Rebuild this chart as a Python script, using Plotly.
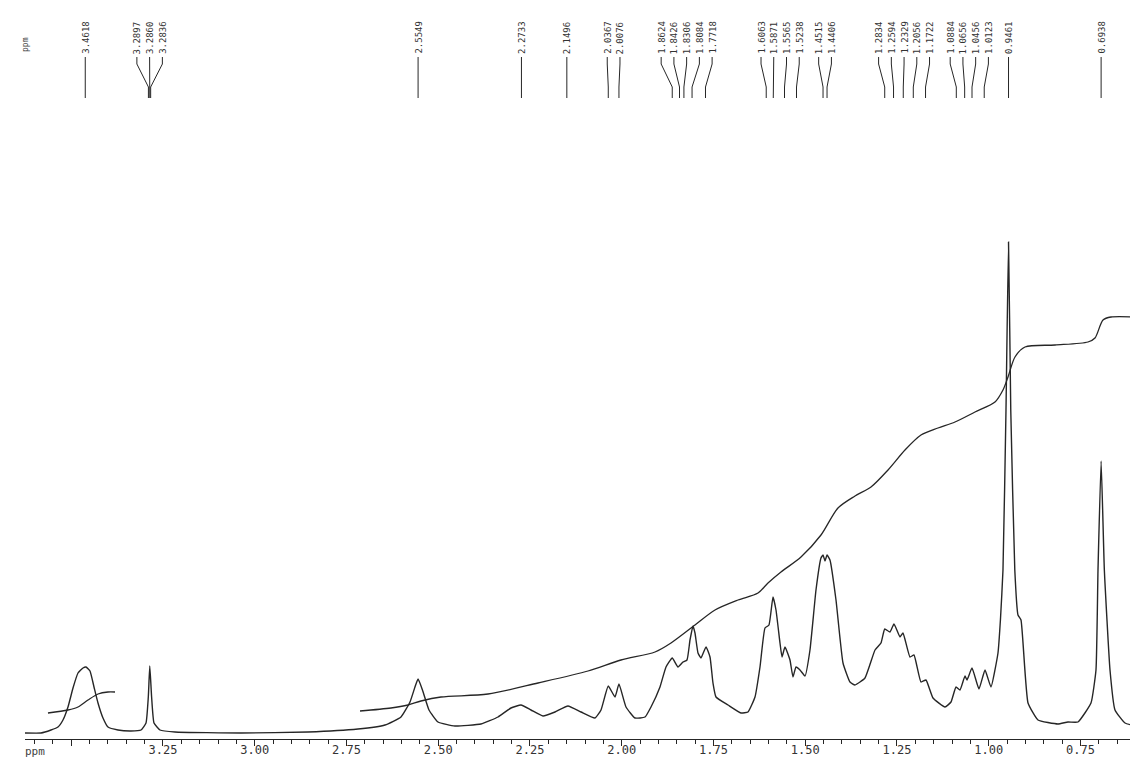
import plotly.graph_objects as go

# ---------------- data ----------------
spec_ppm = [3.6260, 3.5824, 3.5552, 3.5361, 3.5225, 3.5089, 3.4952, 3.4816, 3.4680, 3.4598,
            3.4489, 3.4380, 3.4271, 3.4135, 3.3999, 3.3726, 3.3372, 3.3099, 3.2963, 3.2900,
            3.2860, 3.2810, 3.2745, 3.2582, 3.2173, 3.0375, 2.8549, 2.7187, 2.6451, 2.6015,
            2.5770, 2.5634, 2.5549, 2.5430, 2.5252, 2.5007, 2.4544, 2.3835, 2.3372, 2.3018,
            2.2745, 2.2473, 2.2146, 2.1819, 2.1465, 2.1110, 2.0729, 2.0565, 2.0367, 2.0184,
            2.0076, 1.9884, 1.9639, 1.9366, 1.9203, 1.8958, 1.8794, 1.8624, 1.8467, 1.8331,
            1.8222, 1.8140, 1.8058, 1.8004, 1.7922, 1.7841, 1.7704, 1.7595, 1.7514, 1.7432,
            1.7105, 1.6751, 1.6560, 1.6369, 1.6233, 1.6097, 1.5988, 1.5879, 1.5797, 1.5688,
            1.5633, 1.5552, 1.5416, 1.5334, 1.5252, 1.5143, 1.5007, 1.4871, 1.4707, 1.4571,
            1.4515, 1.4462, 1.4406, 1.4326, 1.4162, 1.3971, 1.3781, 1.3644, 1.3372, 1.3099,
            1.2936, 1.2834, 1.2691, 1.2582, 1.2418, 1.2336, 1.2146, 1.2037, 1.1846, 1.1710,
            1.1519, 1.1192, 1.1028, 1.0892, 1.0783, 1.0647, 1.0593, 1.0456, 1.0266, 1.0102,
            0.9939, 0.9748, 0.9680, 0.9612, 0.9530, 0.9461, 0.9400, 0.9290, 0.9203, 0.9121,
            0.8930, 0.8658, 0.8113, 0.7841, 0.7568, 0.7214, 0.7078, 0.7023, 0.6938, 0.6850,
            0.6696, 0.6560, 0.6287, 0.5715]
spec_int = [6, 6, 9, 12, 19, 32, 51, 66, 71, 72,
            68, 52, 36, 21, 12, 9, 8, 9, 16, 42,
            73, 42, 16, 9, 7, 6, 7, 10, 14, 22,
            37, 52, 60, 49, 29, 17, 13, 15, 22, 31,
            34, 29, 23, 27, 33, 27, 21, 29, 53, 42,
            55, 32, 21, 22, 32, 52, 72, 81, 72, 77,
            79, 99, 113, 106, 86, 81, 92, 82, 56, 42,
            34, 26, 27, 42, 72, 111, 114, 142, 129, 96,
            82, 92, 79, 62, 72, 69, 63, 89, 149, 181,
            184, 178, 184, 179, 139, 76, 57, 54, 61, 89,
            96, 110, 107, 115, 102, 106, 82, 84, 57, 59,
            41, 32, 37, 52, 49, 63, 59, 71, 50, 69,
            52, 86, 120, 169, 329, 497, 329, 169, 124, 119,
            36, 19, 15, 17, 17, 36, 69, 169, 278, 169,
            69, 29, 16, 11]

integral_a_ppm = [3.5634, 3.5089, 3.4816, 3.4544, 3.4271, 3.3999, 3.3808]
integral_a_val = [26, 29, 32, 39, 45, 47, 47]

integral_b_ppm = [2.7132, 2.6287, 2.5824, 2.5470, 2.4925, 2.3644, 2.2282, 2.0920, 2.0020, 1.9094,
                  1.8658, 1.8004, 1.7459, 1.6832, 1.6287, 1.6015, 1.5661, 1.5116, 1.4571, 1.4108,
                  1.3644, 1.3208, 1.2745, 1.2282, 1.1846, 1.1383, 1.0920, 1.0375, 0.9830, 0.9612,
                  0.9475, 0.9285, 0.9012, 0.8195, 0.7296, 0.7105, 0.6887, 0.6669, 0.6015]
integral_b_val = [28, 31, 34, 38, 42, 45, 56, 68, 79, 87,
                  96, 114, 129, 139, 146, 156, 167, 182, 204, 231,
                  243, 252, 269, 289, 304, 311, 317, 327, 337, 349,
                  362, 382, 392, 394, 397, 401, 419, 422, 422]

peak_groups = [
    [3.4618],
    [3.2897, 3.2860, 3.2836],
    [2.5549],
    [2.2733],
    [2.1496],
    [2.0367, 2.0076],
    [1.8624, 1.8426, 1.8306, 1.8084, 1.7718],
    [1.6063, 1.5871, 1.5565, 1.5238],
    [1.4515, 1.4406],
    [1.2834, 1.2594, 1.2329, 1.2056, 1.1722],
    [1.0884, 1.0656, 1.0456, 1.0123],
    [0.9461],
    [0.6938],
]

tick_vals = [3.50, 3.25, 3.00, 2.75, 2.50, 2.25, 2.00, 1.75, 1.50, 1.25, 1.00, 0.75]
tick_text = ["", "3.25", "3.00", "2.75", "2.50", "2.25", "2.00", "1.75", "1.50", "1.25", "1.00", "0.75"]

# ---------------- layout constants ----------------
INK = "#262626"
LABEL_SPACING = 0.0347      # ppm between neighbouring label texts
Y_ANN = 683                 # annotation anchor for the label texts
Y_TEXT, Y_BEND1, Y_BEND2, Y_END = 682, 675, 652, 641
MONO = "DejaVu Sans Mono, Liberation Mono, monospace"

fig = go.Figure()

fig.add_trace(go.Scatter(x=spec_ppm, y=spec_int, mode="lines",
                         line=dict(color=INK, width=1.4, shape="spline", smoothing=0.4),
                         hoverinfo="skip", showlegend=False))
fig.add_trace(go.Scatter(x=integral_a_ppm, y=integral_a_val, mode="lines",
                         line=dict(color=INK, width=1.3, shape="spline", smoothing=0.8),
                         hoverinfo="skip", showlegend=False))
fig.add_trace(go.Scatter(x=integral_b_ppm, y=integral_b_val, mode="lines",
                         line=dict(color=INK, width=1.3, shape="spline", smoothing=0.8),
                         hoverinfo="skip", showlegend=False))

# peak-label connectors and texts
lx, ly = [], []
annotations = []
for grp in peak_groups:
    n = len(grp)
    centre = sum(grp) / n
    for i, p in enumerate(grp):
        t = centre + ((n - 1) / 2 - i) * LABEL_SPACING
        lx += [t, t, p, p, None]
        ly += [Y_TEXT, Y_BEND1, Y_BEND2, Y_END, None]
        annotations.append(dict(x=t, y=Y_ANN, xref="x", yref="y", text=f"{p:.4f}",
                                textangle=-90, showarrow=False, xanchor="center",
                                yanchor="bottom", font=dict(family=MONO, size=9, color="#333")))

fig.add_trace(go.Scatter(x=lx, y=ly, mode="lines", line=dict(color=INK, width=1),
                         hoverinfo="skip", showlegend=False))

annotations.append(dict(x=0.0, y=694, xref="paper", yref="y", text="ppm", textangle=-90,
                        showarrow=False, xanchor="center", yanchor="middle",
                        font=dict(family=MONO, size=8, color="#444")))
annotations.append(dict(x=0.009, y=-0.017, xref="paper", yref="paper", text="ppm",
                        showarrow=False, xanchor="center", yanchor="middle",
                        font=dict(family=MONO, size=11, color="#444")))

fig.update_layout(
    width=1138, height=760,
    margin=dict(l=17, r=0, t=0, b=29),
    paper_bgcolor="white", plot_bgcolor="white",
    annotations=annotations,
    xaxis=dict(range=[3.626, 0.5715], showgrid=False, zeroline=False,
               showline=True, linecolor=INK, linewidth=1.3,
               tickmode="array", tickvals=tick_vals, ticktext=tick_text,
               ticks="outside", ticklen=6, tickwidth=1.2, tickcolor=INK,
               ticklabelstandoff=-7,
               tickfont=dict(family=MONO, size=12, color="#333"),
               minor=dict(tickmode="linear", tick0=0, dtick=0.05, ticks="outside",
                          ticklen=4, tickwidth=1, tickcolor=INK)),
    yaxis=dict(range=[0, 731], visible=False, showgrid=False, zeroline=False),
)

fig.write_html("out.html")
